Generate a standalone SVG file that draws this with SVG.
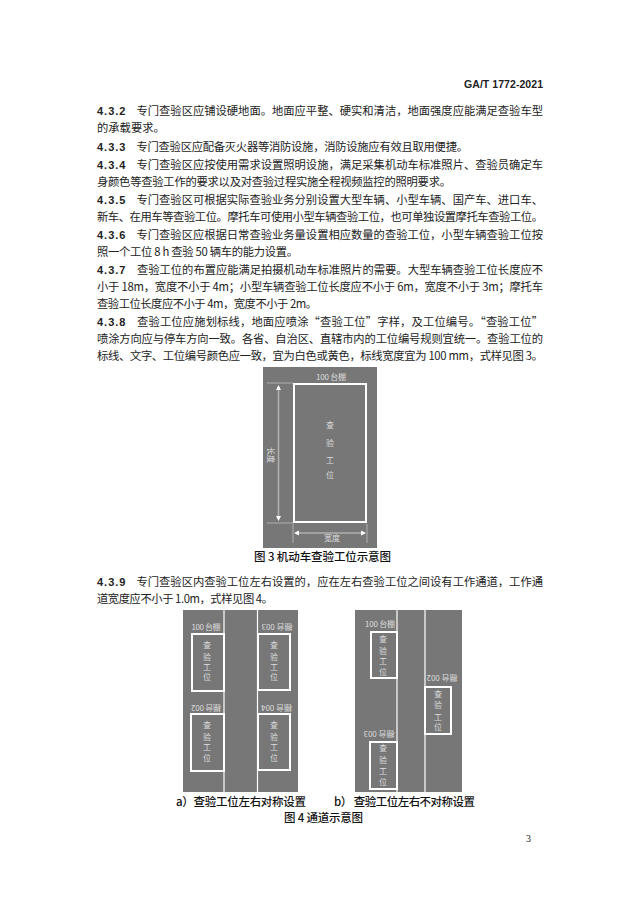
<svg xmlns="http://www.w3.org/2000/svg" width="640" height="905" viewBox="0 0 640 905">
<style>
text{font-family:"Noto Sans CJK SC","Liberation Sans",sans-serif;fill:#222}
.b{font-size:11.3px}
.n{font-family:"Liberation Sans",sans-serif;font-weight:700;font-size:11px;letter-spacing:1px}
.c{font-size:11.5px;fill:#111;font-weight:500}
.g{fill:#777}
.w{fill:none;stroke:#fff;stroke-width:2}
.l{font-size:8px;fill:#ddd;text-anchor:middle}
.t{font-size:8px;fill:#ddd;text-anchor:middle}
.d{stroke:#b0b0b0;stroke-width:1;fill:none}
.a{stroke:#b0b0b0;stroke-width:1.6;fill:none}
.v{stroke:#fff;stroke-width:1.2}
</style>
<rect width="640" height="905" fill="#fff"/>
<g id="text-body">
<text x="464" y="88" font-size="10.5" style="font-family:'Liberation Sans',sans-serif;font-weight:700" textLength="79" lengthAdjust="spacing">GA/T 1772-2021</text>
<text class="n" x="97" y="115">4.3.2</text><text class="b" x="136.500" y="115" textLength="406.500">专门查验区应铺设硬地面。地面应平整、硬实和清洁，地面强度应能满足查验车型</text>
<text class="b" x="97" y="132">的承载要求。</text>
<text class="n" x="97" y="151">4.3.3</text><text class="b" x="136.500" y="151" textLength="331.500">专门查验区应配备灭火器等消防设施，消防设施应有效且取用便捷。</text>
<text class="n" x="97" y="169">4.3.4</text><text class="b" x="136.500" y="169" textLength="406.500">专门查验区应按使用需求设置照明设施，满足采集机动车标准照片、查验员确定车</text>
<text class="b" x="97" y="186" textLength="354">身颜色等查验工作的要求以及对查验过程实施全程视频监控的照明要求。</text>
<text class="n" x="97" y="204">4.3.5</text><text class="b" x="136.500" y="204" textLength="406.500">专门查验区可根据实际查验业务分别设置大型车辆、小型车辆、国产车、进口车、</text>
<text class="b" x="97" y="221" textLength="446">新车、在用车等查验工位。摩托车可使用小型车辆查验工位，也可单独设置摩托车查验工位。</text>
<text class="n" x="97" y="239">4.3.6</text><text class="b" x="136.500" y="239" textLength="406.500">专门查验区应根据日常查验业务量设置相应数量的查验工位，小型车辆查验工位按</text>
<text class="b" x="97" y="256" textLength="201">照一个工位 8 h 查验 50 辆车的能力设置。</text>
<text class="n" x="97" y="274">4.3.7</text><text class="b" x="137" y="274" textLength="406">查验工位的布置应能满足拍摄机动车标准照片的需要。大型车辆查验工位长度应不</text>
<text class="b" x="97" y="291" textLength="446">小于 18m，宽度不小于 4m；小型车辆查验工位长度应不小于 6m，宽度不小于 3m；摩托车</text>
<text class="b" x="97" y="308" textLength="220">查验工位长度应不小于 4m，宽度不小于 2m。</text>
<text class="n" x="97" y="326">4.3.8</text><text class="b" x="137" y="326" textLength="406">查验工位应施划标线，地面应喷涂“查验工位”字样，及工位编号。“查验工位”</text>
<text class="b" x="97" y="343" textLength="446">喷涂方向应与停车方向一致。各省、自治区、直辖市内的工位编号规则宜统一。查验工位的</text>
<text class="b" x="97" y="360" textLength="446">标线、文字、工位编号颜色应一致，宜为白色或黄色，标线宽度宜为 100 mm，式样见图 3。</text>
<text class="n" x="97" y="586">4.3.9</text><text class="b" x="136.500" y="586" textLength="406.500">专门查验区内查验工位左右设置的，应在左右查验工位之间设有工作通道，工作通</text>
<text class="b" x="97" y="603" textLength="176">道宽度应不小于 1.0m，式样见图 4。</text>
<text x="526" y="842" font-size="10" style="font-family:'Liberation Serif',serif" fill="#333">3</text>
</g>
<g id="figure-3">
<rect class="g" x="263" y="367" width="114" height="181"/>
<rect class="w" x="294" y="384" width="72" height="138"/>
<path class="d" d="M267 383H293M267 523H293M293 524V543M367 524V543"/>
<path class="a" d="M278.500 387V519M297 533H363"/>
<path d="M278.500 385l-2.500 5h5zM278.500 521l-2.500-5h5zM294 533l5-2.500v5zM366 533l-5-2.500v5z" fill="#fff"/>
<text class="l" x="331" y="380" textLength="30">100 台棚</text>
<text class="t" x="330" y="428">查</text><text class="t" x="330" y="446">验</text><text class="t" x="330" y="463">工</text><text class="t" x="330" y="478">位</text>
<text class="t" transform="translate(268 455) rotate(90)">长度</text>
<text class="t" x="332" y="541">宽度</text>
<text class="c" x="254" y="561" textLength="137">图 3 机动车查验工位示意图</text>
</g>
<g id="figure-4a">
<rect class="g" x="183" y="610" width="115" height="182"/>
<path class="v" d="M224 610V792M257.500 610V792"/>
<rect class="w" x="192" y="634" width="32" height="57"/>
<rect class="w" x="191" y="714" width="33" height="57"/>
<rect class="w" x="258" y="634" width="32" height="56"/>
<rect class="w" x="258" y="714" width="32" height="56"/>
<text class="l" x="206" y="630" textLength="29">100 台棚</text>
<text class="l" x="277" y="630" textLength="31" transform="rotate(180 277 627)">棚台 003</text>
<text class="l" x="206" y="711" textLength="30" transform="rotate(180 206 708)">棚台 002</text>
<text class="l" x="276.500" y="711" textLength="31" transform="rotate(180 276.500 708)">棚台 004</text>
<text class="t" x="207" y="648">查</text><text class="t" x="207" y="660">验</text><text class="t" x="207" y="670">工</text><text class="t" x="207" y="680">位</text>
<text class="t" x="274" y="648">查</text><text class="t" x="274" y="660">验</text><text class="t" x="274" y="670">工</text><text class="t" x="274" y="680">位</text>
<text class="t" x="207" y="728">查</text><text class="t" x="207" y="740">验</text><text class="t" x="207" y="750">工</text><text class="t" x="207" y="761">位</text>
<text class="t" x="274" y="728">查</text><text class="t" x="274" y="740">验</text><text class="t" x="274" y="750">工</text><text class="t" x="274" y="761">位</text>
</g>
<g id="figure-4b">
<rect class="g" x="355" y="610" width="107" height="182"/>
<path class="v" d="M397 610V792M425 610V792"/>
<rect class="w" x="371" y="632" width="26" height="46"/>
<rect class="w" x="370" y="742" width="27" height="47"/>
<rect class="w" x="425" y="687" width="26" height="47"/>
<text class="l" x="380" y="627" textLength="30">100 台棚</text>
<text class="l" x="442" y="681" textLength="31" transform="rotate(180 442 678)">棚台 002</text>
<text class="l" x="379" y="737" textLength="31" transform="rotate(180 379 734)">棚台 003</text>
<text class="t" x="383" y="642">查</text><text class="t" x="383" y="654">验</text><text class="t" x="383" y="664">工</text><text class="t" x="383" y="675">位</text>
<text class="t" x="438" y="697">查</text><text class="t" x="438" y="708">验</text><text class="t" x="438" y="720">工</text><text class="t" x="438" y="730">位</text>
<text class="t" x="383" y="751">查</text><text class="t" x="383" y="763">验</text><text class="t" x="383" y="774">工</text><text class="t" x="383" y="785">位</text>
</g>
<g id="captions">
<text class="c" x="176" y="806" textLength="130">a）查验工位左右对称设置</text>
<text class="c" x="334" y="806" textLength="141">b） 查验工位左右不对称设置</text>
<text class="c" x="284" y="822" textLength="79">图 4 通道示意图</text>
</g>
</svg>
